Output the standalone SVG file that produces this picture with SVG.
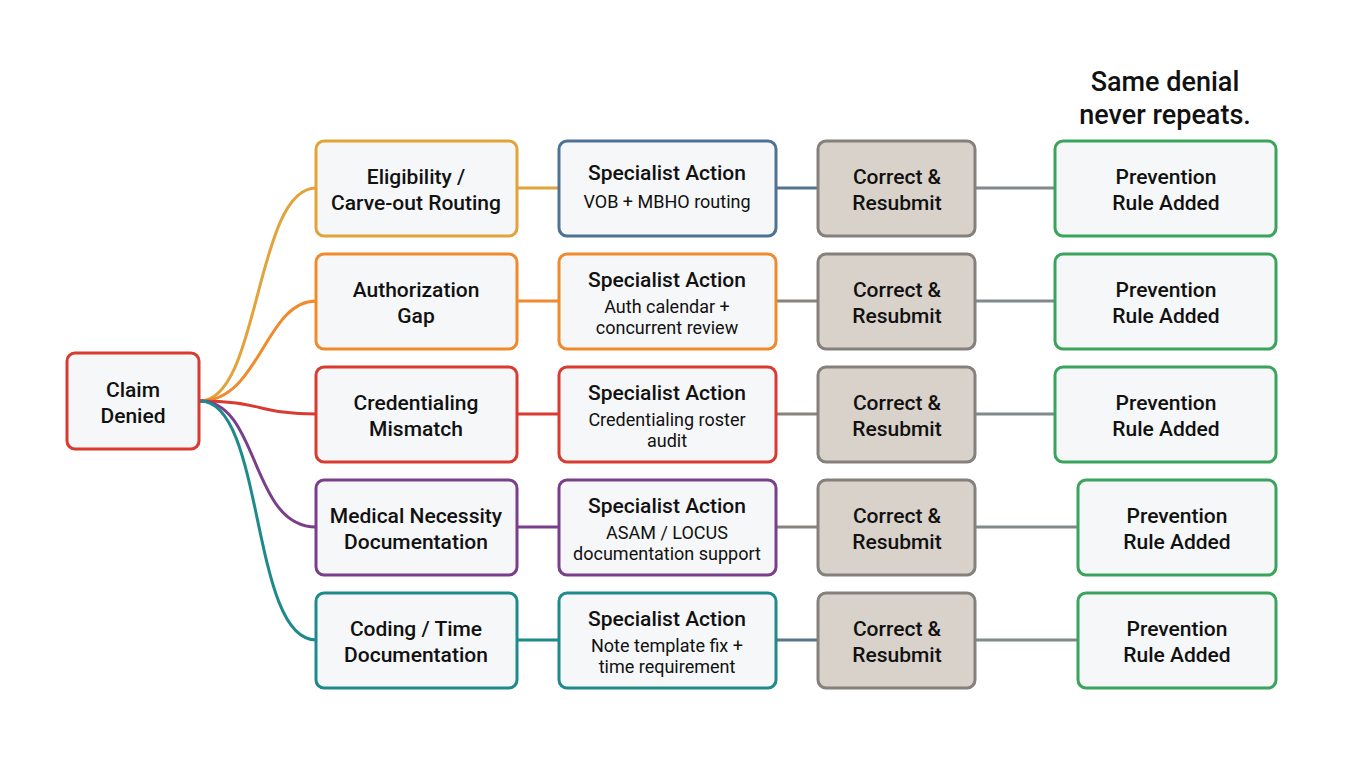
<svg xmlns="http://www.w3.org/2000/svg" width="1360" height="759" viewBox="0 0 1360 759">
<style>
text{font-family:Roboto,"Liberation Sans",sans-serif;font-size:21px;fill:#111;text-anchor:middle;font-weight:500}
.s{font-size:18px;font-weight:400}
.b{fill:#f6f7f8;stroke-width:3}
.c{fill:#d8d2cb;stroke:#85807b;stroke-width:3}
.g{fill:#f6f7f8;stroke:#3aa35c;stroke-width:3}
.l{fill:none;stroke-width:3}
</style>
<rect width="1360" height="759" fill="#fff"/>
<g id="connectors">
<path class="l" stroke="#e2a33a" d="M200 401 C260 401 255 188 316 188"/>
<path class="l" stroke="#f08a2c" d="M200 401 C260 401 265 301 316 301"/>
<path class="l" stroke="#d93b30" d="M200 401 C260 401 260 414 316 414"/>
<path class="l" stroke="#7a3f8a" d="M200 401 C260 401 250 527 316 527"/>
<path class="l" stroke="#1f8a8c" d="M200 401 C265 401 250 640 316 640"/>
<path class="l" stroke="#e2a33a" d="M517 188H559"/>
<path class="l" stroke="#f08a2c" d="M517 301H559"/>
<path class="l" stroke="#d93b30" d="M517 414H559"/>
<path class="l" stroke="#7a3f8a" d="M517 527H559"/>
<path class="l" stroke="#1f8a8c" d="M517 640H559"/>
<path class="l" stroke="#55758f" d="M776 188H818"/>
<path class="l" stroke="#8a837d" d="M776 301H818M776 414H818M776 527H818"/>
<path class="l" stroke="#55758f" d="M776 640H818"/>
<path class="l" stroke="#7f8a8a" d="M975 188H1055M975 301H1055M975 414H1055M975 527H1078M975 640H1078"/>
</g>
<text x="1165" y="91" style="font-size:27px">Same denial</text>
<text x="1165" y="124" style="font-size:27px">never repeats.</text>
<g id="claim"><rect class="b" stroke="#d93b30" x="67" y="353" width="132" height="96" rx="8"/><text x="133" y="397">Claim</text><text x="133" y="423">Denied</text></g>
<g id="r1">
<rect class="b" stroke="#e2a33a" x="316" y="141" width="201" height="95" rx="8"/><text x="416" y="184">Eligibility /</text><text x="416" y="210">Carve-out Routing</text></g>
<g id="r2"><rect class="b" stroke="#f08a2c" x="316" y="254" width="201" height="95" rx="8"/><text x="416" y="297">Authorization</text><text x="416" y="323">Gap</text></g>
<g id="r3"><rect class="b" stroke="#d93b30" x="316" y="367" width="201" height="95" rx="8"/><text x="416" y="410">Credentialing</text><text x="416" y="436">Mismatch</text></g>
<g id="r4"><rect class="b" stroke="#7a3f8a" x="316" y="480" width="201" height="95" rx="8"/><text x="416" y="523">Medical Necessity</text><text x="416" y="549">Documentation</text></g>
<g id="r5"><rect class="b" stroke="#1f8a8c" x="316" y="593" width="201" height="95" rx="8"/><text x="416" y="636">Coding / Time</text><text x="416" y="662">Documentation</text></g>
<g id="s1"><rect class="b" stroke="#4e7294" x="559" y="141" width="217" height="95" rx="8"/><text x="667" y="180">Specialist Action</text><text class="s" x="667" y="208">VOB + MBHO routing</text></g>
<g id="s2"><rect class="b" stroke="#f08a2c" x="559" y="254" width="217" height="95" rx="8"/><text x="667" y="287">Specialist Action</text><text class="s" x="667" y="313">Auth calendar +</text><text class="s" x="667" y="334">concurrent review</text></g>
<g id="s3"><rect class="b" stroke="#d93b30" x="559" y="367" width="217" height="95" rx="8"/><text x="667" y="400">Specialist Action</text><text class="s" x="667" y="426">Credentialing roster</text><text class="s" x="667" y="447">audit</text></g>
<g id="s4"><rect class="b" stroke="#7a3f8a" x="559" y="480" width="217" height="95" rx="8"/><text x="667" y="513">Specialist Action</text><text class="s" x="667" y="539">ASAM / LOCUS</text><text class="s" x="667" y="560">documentation support</text></g>
<g id="s5"><rect class="b" stroke="#1f8a8c" x="559" y="593" width="217" height="95" rx="8"/><text x="667" y="626">Specialist Action</text><text class="s" x="667" y="652">Note template fix +</text><text class="s" x="667" y="673">time requirement</text></g>
<g id="c1"><rect class="c" x="818" y="141" width="157" height="95" rx="8"/><text x="897" y="184">Correct &amp;</text><text x="897" y="210">Resubmit</text></g>
<g id="c2"><rect class="c" x="818" y="254" width="157" height="95" rx="8"/><text x="897" y="297">Correct &amp;</text><text x="897" y="323">Resubmit</text></g>
<g id="c3"><rect class="c" x="818" y="367" width="157" height="95" rx="8"/><text x="897" y="410">Correct &amp;</text><text x="897" y="436">Resubmit</text></g>
<g id="c4"><rect class="c" x="818" y="480" width="157" height="95" rx="8"/><text x="897" y="523">Correct &amp;</text><text x="897" y="549">Resubmit</text></g>
<g id="c5"><rect class="c" x="818" y="593" width="157" height="95" rx="8"/><text x="897" y="636">Correct &amp;</text><text x="897" y="662">Resubmit</text></g>
<g id="p1"><rect class="g" x="1055" y="141" width="221" height="95" rx="8"/><text x="1166" y="184">Prevention</text><text x="1166" y="210">Rule Added</text></g>
<g id="p2"><rect class="g" x="1055" y="254" width="221" height="95" rx="8"/><text x="1166" y="297">Prevention</text><text x="1166" y="323">Rule Added</text></g>
<g id="p3"><rect class="g" x="1055" y="367" width="221" height="95" rx="8"/><text x="1166" y="410">Prevention</text><text x="1166" y="436">Rule Added</text></g>
<g id="p4"><rect class="g" x="1078" y="480" width="198" height="95" rx="8"/><text x="1177" y="523">Prevention</text><text x="1177" y="549">Rule Added</text></g>
<g id="p5"><rect class="g" x="1078" y="593" width="198" height="95" rx="8"/><text x="1177" y="636">Prevention</text><text x="1177" y="662">Rule Added</text></g>
</svg>
